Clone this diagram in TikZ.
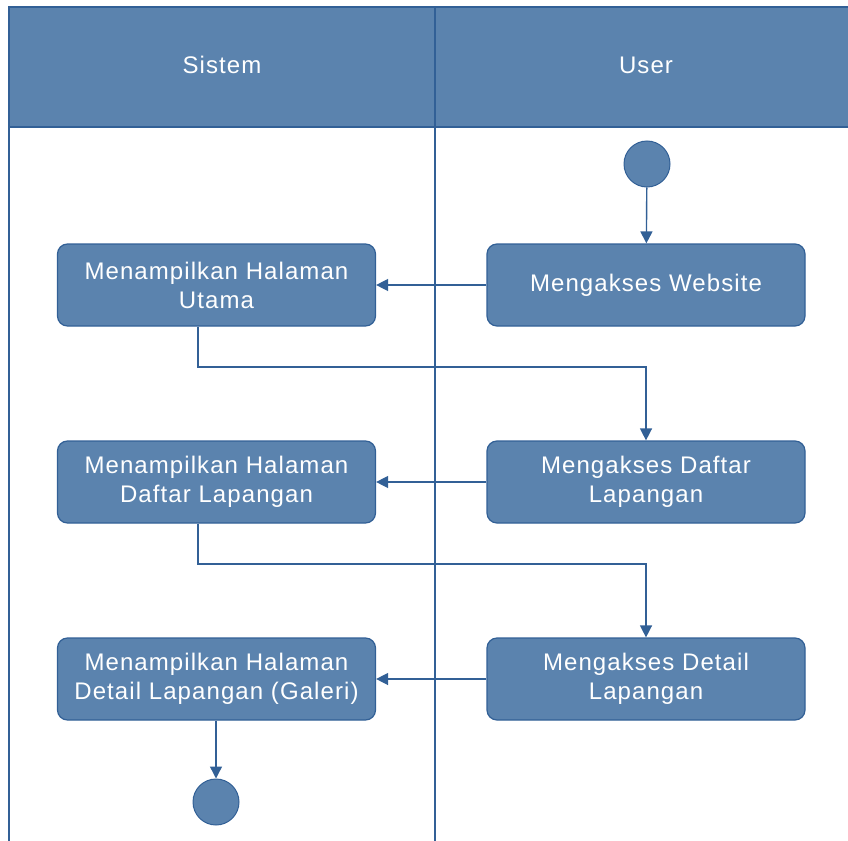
\documentclass[tikz,border=0pt]{standalone}
\usepackage{fontspec}
\setmainfont{Liberation Sans}[LetterSpace=4.5]
\usetikzlibrary{arrows.meta}
\definecolor{fillb}{RGB}{91,131,174}
\definecolor{lineb}{RGB}{50,96,150}
\begin{document}
\begin{tikzpicture}[x=1pt,y=-1pt,
  actbox/.style={draw=lineb,line width=1.2pt,fill=fillb,rounded corners=10pt,minimum width=318pt,minimum height=82pt,inner sep=0pt,text=white,align=center,font=\fontsize{24}{29}\selectfont},
  dot/.style={circle,draw=lineb,line width=1pt,fill=fillb,minimum size=46pt,inner sep=0pt},
  flow/.style={draw=lineb,line width=1.4pt,-{Triangle[length=12pt,width=12pt]}},
  lane/.style={draw=lineb,line width=1.4pt}]
\useasboundingbox (0,0) rectangle (848,840);
\clip (0,0) rectangle (848,840);
% header
\fill[fillb] (9,7) rectangle (880,127);
\draw[lane] (9,850) -- (9,7) -- (880,7);
\draw[lane] (9,127) -- (880,127);
\draw[lane] (435,7) -- (435,850);
\node[text=white,font=\fontsize{24}{29}\selectfont] (hs) at (222,65) {Sistem};
\node[text=white,font=\fontsize{24}{29}\selectfont] (hu) at (646,65) {User};
% nodes
\node[dot] (start) at (647,164) {};
\node[actbox] (u1) at (646,285) {Mengakses Website};
\node[actbox] (s1) at (216.5,285) {Menampilkan Halaman\\Utama};
\node[actbox] (u2) at (646,482) {Mengakses Daftar\\Lapangan};
\node[actbox] (s2) at (216.5,482) {Menampilkan Halaman\\Daftar Lapangan};
\node[actbox] (u3) at (646,679) {Mengakses Detail\\Lapangan};
\node[actbox] (s3) at (216.5,679) {Menampilkan Halaman\\Detail Lapangan (Galeri)};
\node[dot] (end) at (216,802) {};
% connectors
\draw[flow] (start) -- (u1);
\draw[flow] (u1) -- (s1);
\draw[flow] (s1.south -| 198,0) -- (198,367) -- (646,367) -- (u2.north);
\draw[flow] (u2) -- (s2);
\draw[flow] (s2.south -| 198,0) -- (198,564) -- (646,564) -- (u3.north);
\draw[flow] (u3) -- (s3);
\draw[flow] (s3.south -| end) -- (end);
\end{tikzpicture}
\end{document}
